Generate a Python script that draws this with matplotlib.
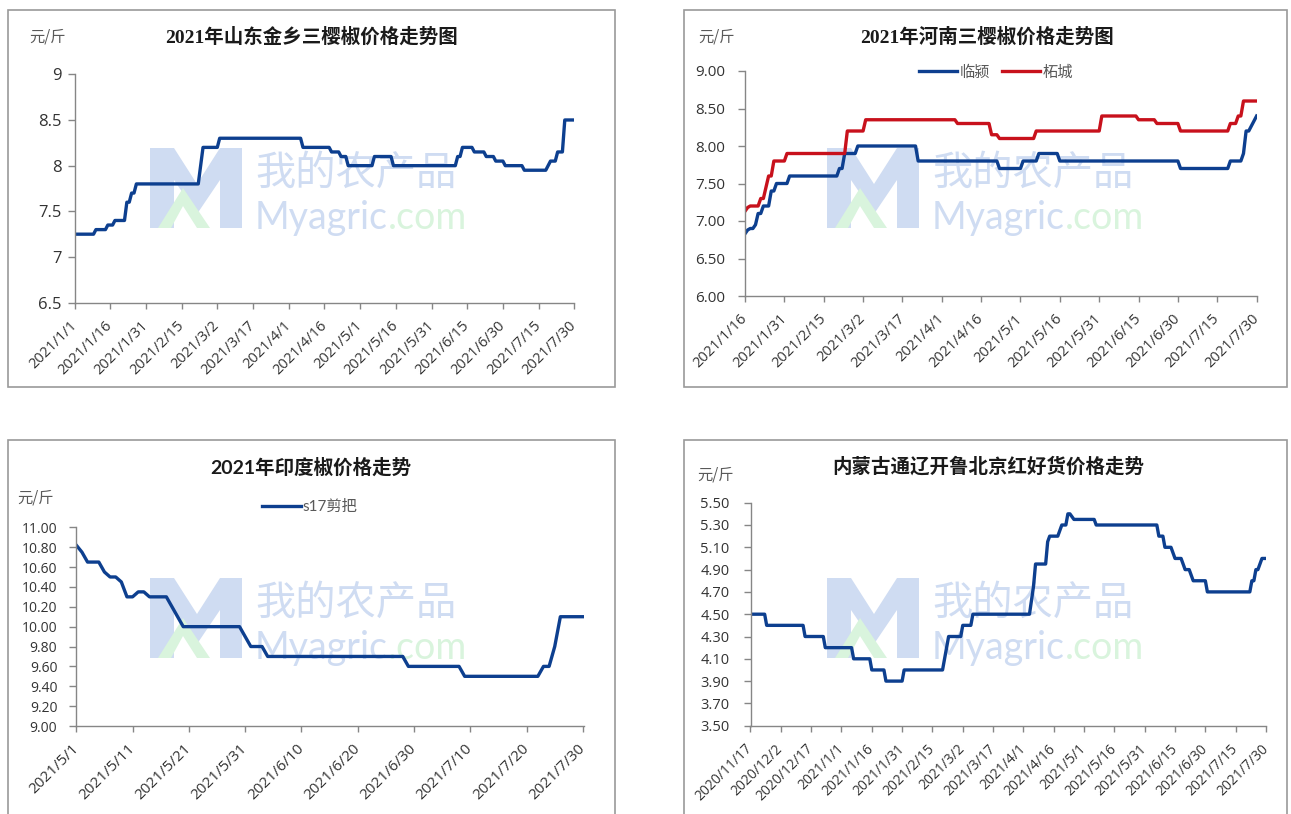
import matplotlib
matplotlib.use("Agg")
import matplotlib.pyplot as plt
from matplotlib.patches import Rectangle, Polygon
from matplotlib.transforms import ScaledTranslation
import pandas as pd

W, H = 1291, 814

# ---------------- data ----------------
# Panel 1: 2021年山东金乡三樱椒价格走势图
p1_dates = ['2021/1/1', '2021/1/9', '2021/1/10', '2021/1/14', '2021/1/15', '2021/1/17',
            '2021/1/18', '2021/1/22', '2021/1/23', '2021/1/24', '2021/1/25', '2021/1/26',
            '2021/1/27', '2021/2/22', '2021/2/24', '2021/3/2', '2021/3/3', '2021/4/6',
            '2021/4/7', '2021/4/18', '2021/4/19', '2021/4/22', '2021/4/23', '2021/4/25',
            '2021/4/26', '2021/5/6', '2021/5/7', '2021/5/14', '2021/5/15', '2021/6/10',
            '2021/6/11', '2021/6/12', '2021/6/13', '2021/6/17', '2021/6/18', '2021/6/22',
            '2021/6/23', '2021/6/26', '2021/6/27', '2021/6/30', '2021/7/1', '2021/7/8',
            '2021/7/9', '2021/7/18', '2021/7/20', '2021/7/22', '2021/7/23', '2021/7/25',
            '2021/7/26', '2021/7/30']
p1_values = [7.25, 7.25, 7.30, 7.30, 7.35, 7.35,
             7.40, 7.40, 7.60, 7.60, 7.70, 7.70,
             7.80, 7.80, 8.20, 8.20, 8.30, 8.30,
             8.20, 8.20, 8.15, 8.15, 8.10, 8.10,
             8.00, 8.00, 8.10, 8.10, 8.00, 8.00,
             8.10, 8.10, 8.20, 8.20, 8.15, 8.15,
             8.10, 8.10, 8.05, 8.05, 8.00, 8.00,
             7.95, 7.95, 8.05, 8.05, 8.15, 8.15,
             8.50, 8.50]
p1_xticks = ['2021/1/1', '2021/1/16', '2021/1/31', '2021/2/15', '2021/3/2', '2021/3/17',
             '2021/4/1', '2021/4/16', '2021/5/1', '2021/5/16', '2021/5/31', '2021/6/15',
             '2021/6/30', '2021/7/15', '2021/7/30']
p1_yticks = ['6.5', '7', '7.5', '8', '8.5', '9']

# Panel 2: 2021年河南三樱椒价格走势图
p2_linying_dates = ['2021/1/16', '2021/1/17', '2021/1/18', '2021/1/19', '2021/1/20', '2021/1/21',
                    '2021/1/22', '2021/1/23', '2021/1/25', '2021/1/26', '2021/1/27', '2021/1/28',
                    '2021/2/1', '2021/2/2', '2021/2/20', '2021/2/21', '2021/2/22', '2021/2/23',
                    '2021/2/27', '2021/2/28', '2021/3/22', '2021/3/23', '2021/4/22', '2021/4/23',
                    '2021/5/1', '2021/5/2', '2021/5/7', '2021/5/8', '2021/5/15', '2021/5/16',
                    '2021/6/30', '2021/7/1', '2021/7/19', '2021/7/20', '2021/7/24', '2021/7/25',
                    '2021/7/26', '2021/7/27', '2021/7/30']
p2_linying = [6.83, 6.88, 6.90, 6.90, 6.95, 7.10,
              7.10, 7.20, 7.20, 7.40, 7.40, 7.50,
              7.50, 7.60, 7.60, 7.70, 7.70, 7.90,
              7.90, 8.00, 8.00, 7.80, 7.80, 7.70,
              7.70, 7.80, 7.80, 7.90, 7.90, 7.80,
              7.80, 7.70, 7.70, 7.80, 7.80, 7.90,
              8.20, 8.20, 8.40]
p2_zhecheng_dates = ['2021/1/16', '2021/1/17', '2021/1/18', '2021/1/21', '2021/1/22', '2021/1/23',
                     '2021/1/25', '2021/1/26', '2021/1/27', '2021/1/31', '2021/2/1', '2021/2/23',
                     '2021/2/24', '2021/3/2', '2021/3/3', '2021/4/6', '2021/4/7', '2021/4/19',
                     '2021/4/20', '2021/4/22', '2021/4/23', '2021/5/6', '2021/5/7', '2021/5/31',
                     '2021/6/1', '2021/6/14', '2021/6/15', '2021/6/21', '2021/6/22', '2021/6/30',
                     '2021/7/1', '2021/7/19', '2021/7/20', '2021/7/22', '2021/7/23', '2021/7/24',
                     '2021/7/25', '2021/7/30']
p2_zhecheng = [7.13, 7.18, 7.20, 7.20, 7.30, 7.30,
               7.60, 7.60, 7.80, 7.80, 7.90, 7.90,
               8.20, 8.20, 8.35, 8.35, 8.30, 8.30,
               8.15, 8.15, 8.10, 8.10, 8.20, 8.20,
               8.40, 8.40, 8.35, 8.35, 8.30, 8.30,
               8.20, 8.20, 8.30, 8.30, 8.40, 8.40,
               8.60, 8.60]
p2_xticks = ['2021/1/16', '2021/1/31', '2021/2/15', '2021/3/2', '2021/3/17', '2021/4/1',
             '2021/4/16', '2021/5/1', '2021/5/16', '2021/5/31', '2021/6/15', '2021/6/30',
             '2021/7/15', '2021/7/30']
p2_yticks = ['6.00', '6.50', '7.00', '7.50', '8.00', '8.50', '9.00']

# Panel 3: 2021年印度椒价格走势 (s17剪把)
p3_dates = ['2021/5/1', '2021/5/2', '2021/5/3', '2021/5/5', '2021/5/6', '2021/5/7',
            '2021/5/8', '2021/5/9', '2021/5/10', '2021/5/11', '2021/5/12', '2021/5/13',
            '2021/5/14', '2021/5/17', '2021/5/18', '2021/5/19', '2021/5/20', '2021/5/30',
            '2021/6/1', '2021/6/3', '2021/6/4', '2021/6/28', '2021/6/29', '2021/7/8',
            '2021/7/9', '2021/7/22', '2021/7/23', '2021/7/24', '2021/7/25', '2021/7/26',
            '2021/7/30']
p3_values = [10.82, 10.75, 10.65, 10.65, 10.55, 10.50,
             10.50, 10.45, 10.30, 10.30, 10.35, 10.35,
             10.30, 10.30, 10.20, 10.10, 10.00, 10.00,
             9.80, 9.80, 9.70, 9.70, 9.60, 9.60,
             9.50, 9.50, 9.60, 9.60, 9.80, 10.10,
             10.10]
p3_xticks = ['2021/5/1', '2021/5/11', '2021/5/21', '2021/5/31', '2021/6/10', '2021/6/20',
             '2021/6/30', '2021/7/10', '2021/7/20', '2021/7/30']
p3_yticks = ['9.00', '9.20', '9.40', '9.60', '9.80', '10.00', '10.20', '10.40',
             '10.60', '10.80', '11.00']

# Panel 4: 内蒙古通辽开鲁北京红好货价格走势
p4_dates = ['2020/11/17', '2020/11/24', '2020/11/25', '2020/12/13', '2020/12/14', '2020/12/23',
            '2020/12/24', '2021/1/6', '2021/1/7', '2021/1/15', '2021/1/16', '2021/1/22',
            '2021/1/23', '2021/1/31', '2021/2/1', '2021/2/20', '2021/2/21', '2021/2/23',
            '2021/3/1', '2021/3/2', '2021/3/6', '2021/3/7', '2021/4/4', '2021/4/6',
            '2021/4/7', '2021/4/12', '2021/4/13', '2021/4/14', '2021/4/18', '2021/4/20',
            '2021/4/22', '2021/4/23', '2021/4/24', '2021/4/26', '2021/5/6', '2021/5/7',
            '2021/6/6', '2021/6/7', '2021/6/9', '2021/6/10', '2021/6/13', '2021/6/15',
            '2021/6/18', '2021/6/20', '2021/6/22', '2021/6/24', '2021/6/30', '2021/7/1',
            '2021/7/22', '2021/7/23', '2021/7/24', '2021/7/25', '2021/7/26', '2021/7/28',
            '2021/7/30']
p4_values = [4.50, 4.50, 4.40, 4.40, 4.30, 4.30,
             4.20, 4.20, 4.10, 4.10, 4.00, 4.00,
             3.90, 3.90, 4.00, 4.00, 4.10, 4.30,
             4.30, 4.40, 4.40, 4.50, 4.50, 4.75,
             4.95, 4.95, 5.15, 5.20, 5.20, 5.30,
             5.30, 5.40, 5.40, 5.35, 5.35, 5.30,
             5.30, 5.20, 5.20, 5.10, 5.10, 5.00,
             5.00, 4.90, 4.90, 4.80, 4.80, 4.70,
             4.70, 4.80, 4.80, 4.90, 4.90, 5.00,
             5.00]
p4_xticks = ['2020/11/17', '2020/12/2', '2020/12/17', '2021/1/1', '2021/1/16', '2021/1/31',
             '2021/2/15', '2021/3/2', '2021/3/17', '2021/4/1', '2021/4/16', '2021/5/1',
             '2021/5/16', '2021/5/31', '2021/6/15', '2021/6/30', '2021/7/15', '2021/7/30']
p4_yticks = ['3.50', '3.70', '3.90', '4.10', '4.30', '4.50', '4.70', '4.90',
             '5.10', '5.30', '5.50']

titles = ['2021年山东金乡三樱椒价格走势图', '2021年河南三樱椒价格走势图',
          '2021年印度椒价格走势', '内蒙古通辽开鲁北京红好货价格走势']
unit = '元/斤'

# ---------------- style ----------------
BLUE = '#0d3f8f'
RED = '#c8111c'
AXC = '#868686'
TXT = '#333333'
CJK = 'Noto Sans CJK SC'
NUMF = ['Open Sans', CJK]
TITLEF = ['Liberation Serif', CJK]
WM_BLUE = '#cfdcf2'
WM_GREEN = '#d9f4dd'

fig = plt.figure(figsize=(W / 100, H / 100), dpi=100)


def to_dt(lst):
    return pd.to_datetime(lst, format='%Y/%m/%d')


def fx(x):
    return x / W


def fy(y):
    return 1 - y / H


def add_ax(l, r, t, b):
    ax = fig.add_axes([l / W, 1 - b / H, (r - l) / W, (b - t) / H])
    ax.patch.set_alpha(0)
    for s in ['top', 'right']:
        ax.spines[s].set_visible(False)
    for s in ['left', 'bottom']:
        ax.spines[s].set_color(AXC)
        ax.spines[s].set_linewidth(1.0)
    ax.tick_params(axis='both', colors=AXC, width=1.0, direction='out')
    ax.tick_params(axis='x', length=4)
    ax.tick_params(axis='y', length=5)
    return ax


def setup_axis(ax, xt, yt, ymin, ymax, xsize, ysize, ypad_px, xpad=0.0, xdx=3):
    xd = to_dt(xt)
    ax.set_xlim(xd[0], xd[-1] + pd.Timedelta(days=xpad))
    ax.set_ylim(ymin, ymax)
    ax.set_xticks(xd)
    ax.set_xticklabels(xt, rotation=45, ha='right', va='center', rotation_mode='anchor',
                       family=NUMF, fontsize=xsize, color=TXT)
    off = ScaledTranslation(xdx / 100, 0, fig.dpi_scale_trans)
    for lab in ax.get_xticklabels():
        lab.set_transform(lab.get_transform() + off)
    ax.set_yticks([float(v) for v in yt])
    ax.set_yticklabels(yt, family=NUMF, fontsize=ysize, color=TXT)
    ax.tick_params(axis='x', pad=11, labelcolor=TXT)
    ax.tick_params(axis='y', pad=ypad_px * 0.72, labelcolor=TXT)


def border(l, t, r, b):
    fig.patches.append(Rectangle((fx(l), fy(b)), (r - l) / W, (b - t) / H,
                                 transform=fig.transFigure, fill=False,
                                 edgecolor='#9a9a9a', linewidth=1.2, zorder=-3))


def poly(pts, ox, oy, color):
    fig.patches.append(Polygon([(fx(ox + x), fy(oy + y)) for x, y in pts], closed=True,
                               transform=fig.transFigure, facecolor=color,
                               edgecolor='none', zorder=-2))


def watermark(l, t):
    # faint site logo + name behind the data
    ox, oy = l + 142, t + 138
    poly([(0, 0), (24, 0), (47, 36), (70, 0), (92, 0), (92, 80), (70, 80), (70, 32),
          (47, 66), (24, 32), (24, 80), (0, 80)], ox, oy, WM_BLUE)
    poly([(8, 80), (33, 40), (60, 80), (47, 80), (33, 58), (21, 80)], ox, oy, WM_GREEN)
    fig.text(fx(l + 247), fy(t + 163), '我的农产品', ha='left', va='center', fontsize=29,
             family=CJK, color=WM_BLUE, zorder=-2)
    t1 = fig.text(fx(l + 247), fy(t + 208), 'Myagric', ha='left', va='center', fontsize=27,
                  family='Lato', color=WM_BLUE, zorder=-2)
    return t1, l, t


# panel borders and watermarks
border(8, 10, 615, 387)
border(684, 10, 1287, 387)
border(8, 440, 615, 822)
border(684, 440, 1287, 822)
wms = [watermark(8, 10), watermark(685, 10), watermark(8, 440), watermark(685, 440)]

LW = 2.4

# ---- Panel 1 ----
ax1 = add_ax(74.5, 574.3, 74.3, 302.7)
ax1.plot(to_dt(p1_dates), p1_values, color=BLUE, lw=LW, solid_joinstyle='round')
setup_axis(ax1, p1_xticks, p1_yticks, 6.5, 9.0, 10.5, 12, 6)
fig.text(fx(312), fy(37), titles[0], ha='center', va='center', fontsize=14,
         family=TITLEF, fontweight='bold', color='#1a1a1a')
fig.text(fx(48), fy(37), unit, ha='center', va='center', fontsize=11, family=CJK, color='#595959')

# ---- Panel 2 ----
ax2 = add_ax(745, 1256.6, 71, 296)
ax2.plot(to_dt(p2_linying_dates), p2_linying, color=BLUE, lw=LW, solid_joinstyle='round', label='临颍')
ax2.plot(to_dt(p2_zhecheng_dates), p2_zhecheng, color=RED, lw=LW, solid_joinstyle='round', label='柘城')
setup_axis(ax2, p2_xticks, p2_yticks, 6.0, 9.0, 10.5, 11, 13)
fig.text(fx(987), fy(37), titles[1], ha='center', va='center', fontsize=14,
         family=TITLEF, fontweight='bold', color='#1a1a1a')
fig.text(fx(717), fy(37), unit, ha='center', va='center', fontsize=11, family=CJK, color='#595959')
leg2 = ax2.legend(loc='center', bbox_to_anchor=(fx(996), fy(72)), bbox_transform=fig.transFigure,
                  ncol=2, frameon=False, handlelength=2.5, handletextpad=0.15, columnspacing=0.8,
                  prop={'family': CJK, 'size': 11})
for t in leg2.get_texts():
    t.set_color('#595959')

# ---- Panel 3 ----
ax3 = add_ax(76.3, 584, 527.3, 726)
ax3.plot(to_dt(p3_dates), p3_values, color=BLUE, lw=LW, solid_joinstyle='round', label='s17剪把')
setup_axis(ax3, p3_xticks, p3_yticks, 9.0, 11.0, 11, 10, 12, xpad=0.2, xdx=5)
fig.text(fx(311), fy(467), titles[2], ha='center', va='center', fontsize=14,
         family=['Lato', CJK], fontweight='bold', color='#1a1a1a')
fig.text(fx(36), fy(498), unit, ha='center', va='center', fontsize=11, family=CJK, color='#595959')
leg3 = ax3.legend(loc='center', bbox_to_anchor=(fx(310), fy(507)), bbox_transform=fig.transFigure,
                  frameon=False, handlelength=2.5, handletextpad=0.15,
                  prop={'family': ['Lato', CJK], 'size': 11})
for t in leg3.get_texts():
    t.set_color('#595959')

# ---- Panel 4 ----
ax4 = add_ax(750.5, 1266, 502.7, 725.7)
ax4.plot(to_dt(p4_dates), p4_values, color=BLUE, lw=LW, solid_joinstyle='round')
setup_axis(ax4, p4_xticks, p4_yticks, 3.5, 5.5, 10, 10.5, 14, xdx=2)
fig.text(fx(988), fy(467), titles[3], ha='center', va='center', fontsize=14,
         family=TITLEF, fontweight='bold', color='#1a1a1a')
fig.text(fx(716), fy(475), unit, ha='center', va='center', fontsize=11, family=CJK, color='#595959')

# place ".com" right after "Myagric" in each watermark
fig.canvas.draw()
rend = fig.canvas.get_renderer()
for t1, l, t in wms:
    bb = t1.get_window_extent(rend)
    fig.text(bb.x1 / W, fy(t + 208), '.com', ha='left', va='center', fontsize=27,
             family='Lato', color=WM_GREEN, zorder=-2)

fig.savefig('out.png', dpi=100, facecolor='white')
